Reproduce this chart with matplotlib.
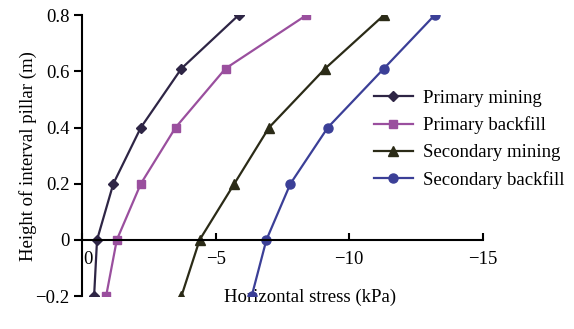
import matplotlib
matplotlib.use('Agg')
import matplotlib.pyplot as plt

plt.rcParams['font.family'] = ['Liberation Serif', 'DejaVu Serif']
plt.rcParams['font.size'] = 13.5

# pillar height (m) and horizontal stress (kPa) for each stage
height = [-0.2, 0.0, 0.2, 0.4, 0.61, 0.8]
primary_mining = [-0.45, -0.56, -1.17, -2.2, -3.72, -5.86]
primary_backfill = [-0.9, -1.3, -2.2, -3.5, -5.37, -8.4]
secondary_mining = [-3.72, -4.4, -5.7, -7.0, -9.1, -11.3]
secondary_backfill = [-6.35, -6.9, -7.8, -9.2, -11.3, -13.2]

labels = ['Primary mining', 'Primary backfill', 'Secondary mining', 'Secondary backfill']
series = [primary_mining, primary_backfill, secondary_mining, secondary_backfill]
colors = ['#2e2545', '#9a4f9e', '#2b2b17', '#3b3f97']
markers = ['D', 's', '^', 'o']
msizes = [5.5, 6, 7, 6.5]

fig = plt.figure(figsize=(5.74, 3.29), dpi=100)
ax = fig.add_axes([0.143, 0.100, 0.698, 0.854])

for s, lab, c, m, ms in zip(series, labels, colors, markers, msizes):
    ax.plot(s, height, '-', color=c, marker=m, markersize=ms, lw=1.6, label=lab)

ax.set_xlim(0, -15)
ax.set_ylim(-0.2, 0.8)
ax.set_xticks([0, -5, -10, -15])
ax.set_yticks([-0.2, 0, 0.2, 0.4, 0.6, 0.8])
ax.set_yticklabels(['\u22120.2', '0', '0.2', '0.4', '0.6', '0.8'])
ax.set_xticklabels(['', '\u22125', '\u221210', '\u221215'])
# the "0" sits just right of the y spine
ax.annotate('0', xy=(0, 0), xytext=(4, -8), textcoords='offset points',
            ha='center', va='top')

# x axis runs through y = 0
ax.spines['bottom'].set_position(('data', 0))
ax.spines['top'].set_visible(False)
ax.spines['right'].set_visible(False)
for sp in ['left', 'bottom']:
    ax.spines[sp].set_linewidth(1.5)
ax.tick_params(axis='x', direction='in', length=5, width=1.5, pad=8)
ax.tick_params(axis='y', direction='out', length=6, width=1.5, pad=3)

ax.set_xlabel('Horizontal stress (kPa)')
ax.xaxis.set_label_coords(0.57, 0.025)
ax.set_ylabel('Height of interval pillar (m)')
ax.yaxis.set_label_coords(-0.113, 0.5)

ax.legend(loc='upper left', bbox_to_anchor=(0.728, 0.735), frameon=False,
          handlelength=2.1, handletextpad=0.55, labelspacing=0.52,
          borderaxespad=0, borderpad=0)

fig.savefig('out.png', dpi=100)
